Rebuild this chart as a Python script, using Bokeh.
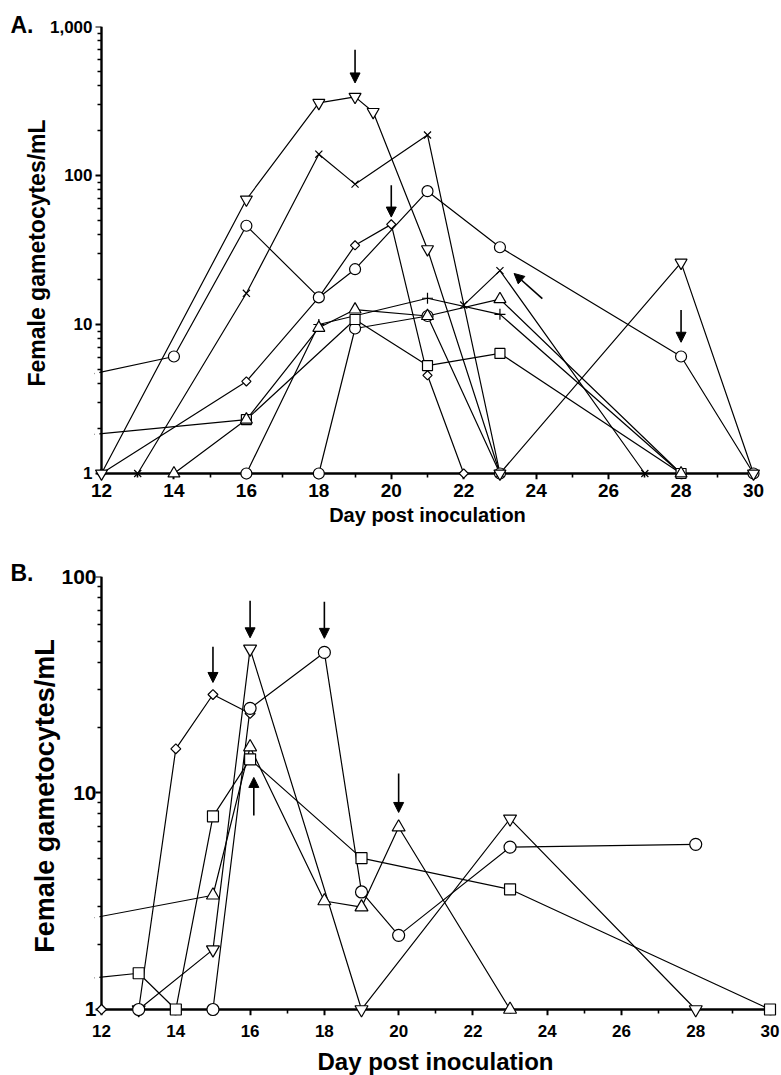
import math
from bokeh.plotting import figure
from bokeh.models import (FixedTicker, NumeralTickFormatter, Arrow, NormalHead,
                          BoxAnnotation, ColumnDataSource, LinearAxis, LogAxis)
from bokeh.layouts import column
from bokeh.embed import file_html
from bokeh.resources import INLINE

# ---------------- Panel A data (day, female gametocytes/mL) ----------------
A_dtri_days = [12, 16, 18, 19, 19.5, 21, 23, 28, 30]
A_dtri_vals = [1, 69, 307, 337, 267, 32, 1, 26, 1]

A_x1_days = [13, 16, 18, 19, 21, 23]
A_x1_vals = [1, 16.2, 139, 87.5, 187, 1]

A_x2_days = [22, 23, 27]
A_x2_vals = [13.5, 23, 1]

A_circ1_days = [10, 14, 16, 18, 19, 21, 23, 28, 30]
A_circ1_vals = [3.77, 6.1, 46, 15.2, 23.5, 78.5, 33, 6.1, 1]

A_circ2_days = [16, 18, 19, 21, 23]
A_circ2_vals = [1, 1, 9.4, 11.4, 1]

A_diam_days = [12, 16, 18, 19, 20, 21, 22]
A_diam_vals = [1, 4.15, 15.2, 34, 47, 4.56, 1]

A_sq_days = [10, 16, 19, 21, 23, 28]
A_sq_vals = [1.66, 2.3, 10.8, 5.3, 6.4, 1]

A_utri_days = [14, 16, 18, 19, 21, 23, 28]
A_utri_vals = [1, 2.3, 9.5, 12.6, 11.4, 14.8, 1]

A_plus_days = [16, 18, 21, 23, 28]
A_plus_vals = [1, 10, 15, 11.7, 1]

A_arrow_x0 = [19, 20, 24.17, 28]
A_arrow_y0 = [697, 86, 14.9, 12.5]
A_arrow_x1 = [19, 20, 23.39, 28]
A_arrow_y1 = [418, 52.6, 22, 7.6]

# ---------------- Panel B data ----------------
B_diam_days = [12, 13, 14, 15, 16]
B_diam_vals = [1, 1, 16, 28.5, 23.3]

B_circ_days = [13, 15, 16, 18, 19, 20, 23, 28]
B_circ_vals = [1, 1, 24.6, 44.6, 3.49, 2.2, 5.62, 5.79]

B_sq_days = [10, 13, 14, 15, 16, 19, 23, 30]
B_sq_vals = [1.30, 1.47, 1, 7.8, 14.3, 5.0, 3.59, 1]

B_utri_days = [10, 15, 16, 18, 19, 20, 23]
B_utri_vals = [2.32, 3.37, 16.3, 3.17, 2.97, 6.95, 1]

B_dtri_days = [13, 15, 16, 19, 23, 28]
B_dtri_vals = [1, 1.89, 46.3, 1, 7.6, 1]

B_arrow_x0 = [15, 16, 18, 20, 16.1]
B_arrow_y0 = [47.4, 77.3, 76.4, 12.3, 7.88]
B_arrow_x1 = [15, 16, 18, 20, 16.1]
B_arrow_y1 = [32.4, 52.1, 51.8, 8.13, 11.8]

x_major = [12, 14, 16, 18, 20, 22, 24, 26, 28, 30]
x_minor = [13, 15, 17, 19, 21, 23, 25, 27, 29]

FONT = "Liberation Sans"


def log_minor(top_exp):
    out = []
    for e in range(top_exp):
        for k in range(2, 10):
            out.append(k * 10 ** e)
    return out


def make_panel(frame_w, frame_h, xr, yr, ytop_exp, b_top, b_bottom, b_right,
               ytick_size, xtick_size, ylab_size, xlab_size,
               ytick_standoff, xtick_standoff, ylab_standoff, xlab_standoff,
               letter, letter_standoff):
    p = figure(frame_width=frame_w, frame_height=frame_h,
               x_range=xr, y_range=yr, y_axis_type="log",
               output_backend="svg", toolbar_location=None,
               min_border_left=94, min_border_right=b_right,
               min_border_top=b_top, min_border_bottom=b_bottom)
    p.outline_line_color = None
    p.grid.visible = False
    p.background_fill_color = "white"
    p.border_fill_color = "white"

    y_major = [10 ** e for e in range(ytop_exp + 1)]

    # label-only axes at the frame edges
    xa = p.xaxis[0]
    ya = p.yaxis[0]
    xa.ticker = FixedTicker(ticks=x_major, minor_ticks=[])
    ya.ticker = FixedTicker(ticks=y_major, minor_ticks=[])
    ya.formatter = NumeralTickFormatter(format="0,0")
    for ax in (xa, ya):
        ax.axis_line_color = None
        ax.major_tick_line_color = None
        ax.minor_tick_line_color = None
        ax.major_tick_out = 0
        ax.major_tick_in = 0
        ax.minor_tick_out = 0
        ax.minor_tick_in = 0
        ax.major_label_text_font = FONT
        ax.major_label_text_font_style = "bold"
        ax.major_label_text_color = "black"
        ax.axis_label_text_font = FONT
        ax.axis_label_text_font_style = "bold"
        ax.axis_label_text_color = "black"
    xa.major_label_text_font_size = f"{xtick_size}px"
    ya.major_label_text_font_size = f"{ytick_size}px"
    xa.major_label_standoff = xtick_standoff
    ya.major_label_standoff = ytick_standoff
    xa.axis_label = "Day post inoculation"
    ya.axis_label = "Female gametocytes/mL"
    xa.axis_label_text_font_size = f"{xlab_size}px"
    ya.axis_label_text_font_size = f"{ylab_size}px"
    xa.axis_label_standoff = xlab_standoff
    ya.axis_label_standoff = ylab_standoff

    # rule + tick axes drawn through (12, 1)
    xl = LinearAxis(fixed_location=1, bounds=(12, 30),
                    ticker=FixedTicker(ticks=x_major, minor_ticks=x_minor),
                    major_label_overrides={t: "" for t in x_major},
                    major_label_text_font_size="0px", major_label_standoff=0)
    yl = LogAxis(fixed_location=12, bounds=(1, 10 ** ytop_exp),
                 ticker=FixedTicker(ticks=y_major, minor_ticks=log_minor(ytop_exp)),
                 major_label_overrides={t: "" for t in y_major},
                 major_label_text_font_size="0px", major_label_standoff=0)
    for ax in (xl, yl):
        ax.axis_line_width = 2.4
        ax.axis_line_color = "black"
        ax.major_tick_line_width = 2
        ax.major_tick_line_color = "black"
        ax.minor_tick_line_width = 1.6
        ax.minor_tick_line_color = "black"
        ax.major_tick_in = 6
        ax.major_tick_out = 0
        ax.minor_tick_in = 4
        ax.minor_tick_out = 0
    p.add_layout(xl, "above")
    p.add_layout(yl, "right")

    p.title.text = letter
    p.title.text_font = FONT
    p.title.text_font_style = "bold"
    p.title.text_font_size = "23px"
    p.title.text_color = "black"
    p.title.align = "left"
    p.title.offset = -84
    p.title.standoff = letter_standoff
    return p


def draw(p, series, arrows):
    srcs = [ColumnDataSource(dict(x=d, y=v)) for d, v, *_ in series]
    for s in srcs:
        p.line("x", "y", source=s, line_color="black", line_width=1.2)
    mask = BoxAnnotation(right=11.94, bottom=1.12, fill_color="white",
                         fill_alpha=1.0, line_color=None, level="glyph")
    p.renderers.append(mask)
    for s, (d, v, marker, size, angle) in zip(srcs, series):
        r = p.scatter("x", "y", source=s, marker=marker, size=size, angle=angle,
                      fill_color="white", line_color="black", line_width=1.2)
        r.level = "overlay"
    x0, y0, x1, y1 = arrows
    asrc = ColumnDataSource(dict(x0=x0, y0=y0, x1=x1, y1=y1))
    p.add_layout(Arrow(x_start="x0", y_start="y0", x_end="x1", y_end="y1",
                       source=asrc, line_color="black", line_width=1.6,
                       end=NormalHead(size=10, fill_color="black",
                                      line_color="black", line_width=1)))


D = math.pi / 4

pA = make_panel(666, 453, (11.807, 30.193), (0.9114, 1000), 3,
                26, 52, 12,
                17, 19, 23, 20,
                2, 4, -3, 4,
                "A.", -22)
draw(pA, [
    (A_plus_days, A_plus_vals, "cross", 11, 0),
    (A_circ2_days, A_circ2_vals, "circle", 11, 0),
    (A_sq_days, A_sq_vals, "square", 10, 0),
    (A_utri_days, A_utri_vals, "triangle", 12, 0),
    (A_diam_days, A_diam_vals, "square", 6.5, D),
    (A_circ1_days, A_circ1_vals, "circle", 11, 0),
    (A_x2_days, A_x2_vals, "x", 10, 0),
    (A_x1_days, A_x1_vals, "x", 10, 0),
    (A_dtri_days, A_dtri_vals, "inverted_triangle", 12, 0),
], (A_arrow_x0, A_arrow_y0, A_arrow_x1, A_arrow_y1))

pB = make_panel(682, 439, (11.81, 30.175), (0.938, 100), 2,
                45, 60, 4,
                21, 17, 27, 24,
                -2, 9, -2, 8,
                "B.", -18)
draw(pB, [
    (B_sq_days, B_sq_vals, "square", 11, 0),
    (B_utri_days, B_utri_vals, "triangle", 13, 0),
    (B_dtri_days, B_dtri_vals, "inverted_triangle", 13, 0),
    (B_diam_days, B_diam_vals, "square", 7, D),
    (B_circ_days, B_circ_vals, "circle", 12, 0),
], (B_arrow_x0, B_arrow_y0, B_arrow_x1, B_arrow_y1))

layout = column(pA, pB, spacing=0)
open("out.html", "w").write(file_html(layout, INLINE))
